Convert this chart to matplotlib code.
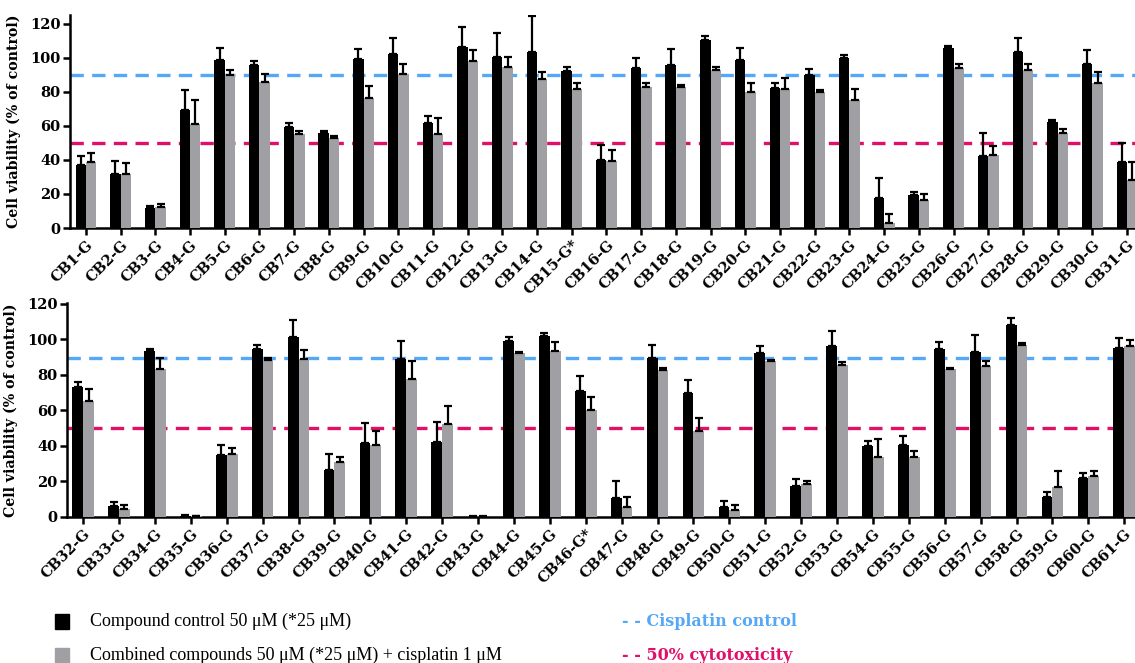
# Cell viability of CB-G compounds alone and combined with cisplatin
import matplotlib
matplotlib.use("Agg")
import matplotlib.pyplot as plt
import numpy as np

CISPLATIN_CTRL = 89.5
CYTOTOX_50 = 50

labels_top = ["CB1-G", "CB2-G", "CB3-G", "CB4-G", "CB5-G", "CB6-G", "CB7-G", "CB8-G",
              "CB9-G", "CB10-G", "CB11-G", "CB12-G", "CB13-G", "CB14-G", "CB15-G*",
              "CB16-G", "CB17-G", "CB18-G", "CB19-G", "CB20-G", "CB21-G", "CB22-G",
              "CB23-G", "CB24-G", "CB25-G", "CB26-G", "CB27-G", "CB28-G", "CB29-G",
              "CB30-G", "CB31-G"]
ctrl_top = [37, 31.5, 11.5, 69, 98.5, 95.5, 59, 56, 99, 102, 61.5, 106.5, 100.5, 103.5, 92,
            40, 94, 95.5, 110.5, 98.5, 82, 90, 99.5, 17.5, 19.5, 105.5, 42.5, 103.5, 62.5,
            96.5, 38.5]
ctrl_top_err = [5.5, 8, 1.7, 12, 7, 2.7, 2.6, 1.1, 6, 9.5, 4, 11.5, 14, 21, 2.7,
                8.5, 5.5, 9.5, 2, 7, 3.3, 3.3, 2.3, 12, 1.4, 1.2, 13, 8, 0.7,
                7.8, 11.5]
comb_top = [38.5, 31.5, 12.5, 61, 89.8, 85.7, 55, 53, 76.3, 90.5, 55, 98, 94.3, 87.5, 81.8,
            39.2, 82.9, 82.9, 92.5, 79.6, 81.4, 79.6, 74.9, 3, 16.5, 93.9, 42.7, 92.5, 55.5,
            84.9, 28.3]
comb_top_err = [5.3, 6.5, 1.6, 14, 3, 4.5, 1.8, 0.8, 7, 6, 9.8, 6.5, 6, 4, 3.5,
                6.7, 2, 0.8, 1.8, 5.3, 6.8, 1.4, 6.5, 5.5, 3.5, 2.2, 5.5, 3.6, 2.5,
                6.7, 10.7]

labels_bot = ["CB32-G", "CB33-G", "CB34-G", "CB35-G", "CB36-G", "CB37-G", "CB38-G",
              "CB39-G", "CB40-G", "CB41-G", "CB42-G", "CB43-G", "CB44-G", "CB45-G",
              "CB46-G*", "CB47-G", "CB48-G", "CB49-G", "CB50-G", "CB51-G", "CB52-G",
              "CB53-G", "CB54-G", "CB55-G", "CB56-G", "CB57-G", "CB58-G", "CB59-G",
              "CB60-G", "CB61-G"]
ctrl_bot = [73, 6.2, 93.2, 0.8, 35, 94.5, 101, 26.4, 41.6, 88.9, 42, 0.2, 99.1, 101.9,
            71, 10.5, 89.5, 69.7, 5.5, 92.1, 17.5, 96.2, 39.9, 40.7, 94.5, 92.8, 107.7,
            11.5, 21.8, 95.1]
ctrl_bot_err = [3, 2.1, 1.2, 0.4, 5.7, 2.1, 9.8, 8.8, 11.5, 9.8, 11.5, 0.1, 2.2, 1.7,
                8.3, 9.7, 7.1, 7.5, 3.5, 3.9, 3.8, 8.3, 2.8, 4.9, 4, 9.6, 4,
                2.8, 2.7, 5.8]
comb_bot = [65.2, 4.3, 83.1, 0.3, 35.4, 88.1, 88.7, 30.9, 40.3, 77.4, 52.4, 0.2, 92.1, 93.4,
            60.3, 5.6, 82.9, 48.4, 3.8, 87.6, 18.3, 85.7, 33.9, 33.7, 83.2, 85.1, 96.6,
            16.8, 23.2, 95.9]
comb_bot_err = [6.6, 2.3, 6.5, 0.4, 3.2, 1.2, 5.3, 2.8, 8.3, 10.5, 10.1, 0.1, 0.9, 5.1,
                6.9, 5.7, 1.1, 7.2, 2.8, 0.9, 1.9, 1.3, 10, 3.6, 0.8, 2.5, 1.1,
                9, 2.8, 3.5]

BLACK = "#000000"
GREY = "#a0a0a4"
BLUE = "#55a8f7"
MAGENTA = "#e0106a"
TICK_FONT = "DejaVu Serif"
TEXT_FONT = "Liberation Serif"

fig = plt.figure(figsize=(11.35, 6.63), dpi=100)
ax_top = fig.add_axes([70 / 1135, 1 - 228 / 663, 1 - 70 / 1135, 213 / 663])
ax_bot = fig.add_axes([67 / 1135, 1 - 517 / 663, 1 - 67 / 1135, 214 / 663])


def draw_panel(ax, labels, ctrl, ctrl_err, comb, comb_err, ymax, xlim):
    x = np.arange(len(labels))
    w = 0.3
    ekw = dict(ecolor=BLACK, elinewidth=1.6, capsize=3, capthick=1.6)
    ax.bar(x - w / 2, ctrl, w, color=BLACK,
           yerr=[np.zeros(len(ctrl)), ctrl_err], error_kw=ekw, zorder=3)
    ax.bar(x + w / 2, comb, w, color=GREY,
           yerr=[np.zeros(len(comb)), comb_err], error_kw=ekw, zorder=3)
    ax.axhline(CISPLATIN_CTRL, color=BLUE, linestyle=(0, (4, 2.5)), linewidth=2.4, zorder=2)
    ax.axhline(CYTOTOX_50, color=MAGENTA, linestyle=(0, (4, 2.5)), linewidth=2.4, zorder=2)

    ax.set_ylim(0, ymax)
    ax.set_xlim(*xlim)
    ax.set_yticks([0, 20, 40, 60, 80, 100, 120])
    ax.set_xticks(x)
    ax.set_xticklabels(labels, rotation=45, ha="right", rotation_mode="anchor")
    for lab in ax.get_xticklabels() + ax.get_yticklabels():
        lab.set_fontfamily(TICK_FONT)
        lab.set_fontweight("bold")
        lab.set_fontsize(10.5)
    ax.tick_params(axis="both", direction="out", width=1.8, length=5, pad=2)
    ax.spines["top"].set_visible(False)
    ax.spines["right"].set_visible(False)
    ax.spines["left"].set_linewidth(1.8)
    ax.spines["bottom"].set_linewidth(1.8)
    ax.set_ylabel("Cell viability (% of control)", fontfamily=TICK_FONT,
                  fontweight="bold", fontsize=10.2, labelpad=6)


draw_panel(ax_top, labels_top, ctrl_top, ctrl_top_err, comb_top, comb_top_err,
           125, (-0.46, 30.23))
draw_panel(ax_bot, labels_bot, ctrl_bot, ctrl_bot_err, comb_bot, comb_bot_err,
           120.3, (-0.45, 29.3))

# legend drawn as figure text, like the original
fig.patches.append(plt.Rectangle((55 / 1135, 1 - 629 / 663), 14 / 1135, 15 / 663,
                                 color=BLACK, transform=fig.transFigure))
fig.patches.append(plt.Rectangle((55 / 1135, 0.5 / 663), 14 / 1135, 15 / 663,
                                 color=GREY, transform=fig.transFigure))
fig.text(90 / 1135, 1 - 621 / 663, "Compound control 50 \u03bcM (*25 \u03bcM)",
         fontfamily=TEXT_FONT, fontsize=13, va="center")
fig.text(90 / 1135, 1 - 655 / 663, "Combined compounds 50 \u03bcM (*25 \u03bcM) + cisplatin 1 \u03bcM",
         fontfamily=TEXT_FONT, fontsize=13, va="center")
fig.text(622 / 1135, 1 - 621 / 663, "- - Cisplatin control", color=BLUE,
         fontfamily=TICK_FONT, fontweight="bold", fontsize=11.5, va="center")
fig.text(622 / 1135, 1 - 655 / 663, "- - 50% cytotoxicity", color=MAGENTA,
         fontfamily=TICK_FONT, fontweight="bold", fontsize=11.5, va="center")

fig.savefig("out.png", dpi=100)
